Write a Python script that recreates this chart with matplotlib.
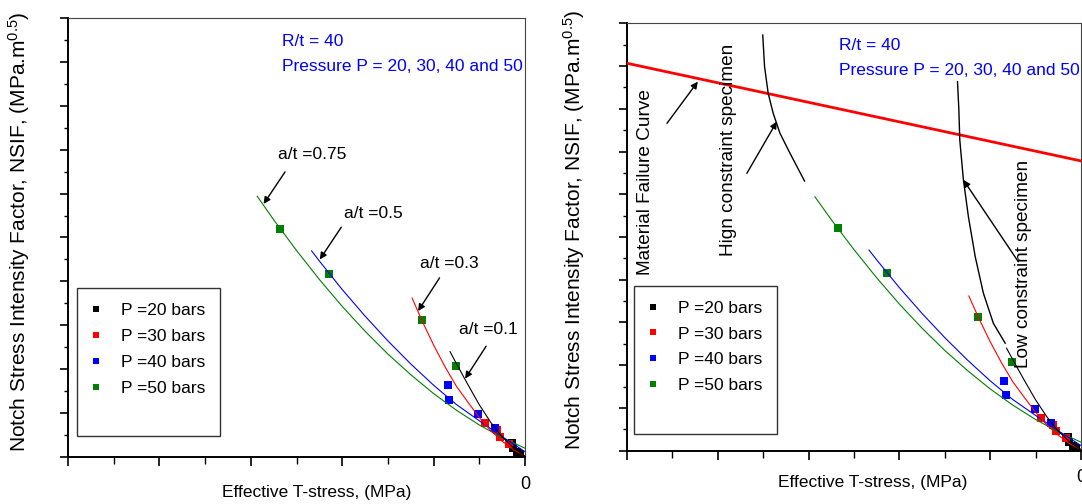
import matplotlib
matplotlib.use('Agg')
import matplotlib.pyplot as plt
from matplotlib.lines import Line2D
from matplotlib.ticker import MultipleLocator, FixedLocator, FixedFormatter

plt.rcParams['font.family'] = ['Liberation Sans', 'DejaVu Sans']
plt.rcParams['mathtext.fontset'] = 'custom'
plt.rcParams['mathtext.rm'] = 'Liberation Sans'
plt.rcParams['mathtext.it'] = 'Liberation Sans:italic'

# ---------------- data (arbitrary units) ----------------
legend_labels = ['P =20 bars', 'P =30 bars', 'P =40 bars', 'P =50 bars']
marker_colors = ['#000000', '#FF0000', '#0000FF', '#008000']

p20_t = [-0.29, -0.26, -0.18, -0.11]
p20_k = [0.62, 0.40, 0.24, 0.14]
p30_t = [-0.88, -0.61, -0.54, -0.34]
p30_k = [1.55, 1.22, 0.92, 0.60]
p40_t = [-1.69, -1.66, -1.02, -0.66]
p40_k = [3.27, 2.60, 1.96, 1.31]
p50_t = [-5.36, -4.28, -2.26, -1.51]
p50_k = [10.41, 8.33, 6.24, 4.16]

# a/t curves
c075_t = [-5.86, -5.5, -5.0, -4.5, -4.0, -3.5, -3.0, -2.5, -2.0, -1.5, -1.0, -0.5, 0.0]
c075_k = [11.88, 10.81, 9.41, 8.09, 6.86, 5.73, 4.69, 3.75, 2.89, 2.13, 1.46, 0.88, 0.40]
c05_t = [-4.67, -4.5, -4.0, -3.5, -3.0, -2.5, -2.0, -1.5, -1.0, -0.5, 0.0]
c05_k = [9.39, 8.93, 7.63, 6.42, 5.29, 4.24, 3.27, 2.39, 1.65, 0.93, 0.24]
c03_t = [-2.47, -2.25, -2.0, -1.75, -1.5, -1.25, -1.0, -0.75, -0.5, -0.25, 0.0]
c03_k = [7.24, 6.19, 5.10, 4.11, 3.22, 2.50, 1.80, 1.20, 0.72, 0.33, 0.05]
c01_t = [-1.64, -1.5, -1.25, -1.0, -0.75, -0.5, -0.25, 0.0]
c01_k = [4.80, 4.25, 3.30, 2.38, 1.58, 0.92, 0.41, 0.05]

# right panel extras
mfc_t = [-10.0, 0.0]
mfc_k = [18.13, 13.56]
high_t = [-7.01, -6.97, -6.89, -6.78, -6.63, -6.41, -6.09]
high_k = [19.45, 17.97, 16.72, 15.79, 14.85, 13.92, 12.62]
low_t = [-2.72, -2.69, -2.67, -2.59, -2.48, -2.33, -2.15, -1.93, -1.67]
low_k = [17.27, 15.94, 14.54, 12.67, 10.95, 9.08, 7.37, 5.96, 5.03]

at_labels = ['a/t =0.75', 'a/t =0.5', 'a/t =0.3', 'a/t =0.1']
at_text_pos = [(-5.40, 13.78), (-3.96, 11.08), (-2.30, 8.80), (-1.45, 5.81)]
at_arrow_tail = [(-5.25, 12.99), (-4.02, 10.47), (-1.87, 8.16), (-0.85, 5.05)]
at_arrow_head = [(-5.72, 11.53), (-4.49, 9.00), (-2.34, 6.65), (-1.31, 3.57)]

x_label = 'Effective T-stress, (MPa)'
y_label = r'Notch Stress Intensity Factor, NSIF, (MPa.m$^{0.5}$)'

fig = plt.figure(figsize=(10.82, 5.04), dpi=100)
ax1 = fig.add_axes([68 / 1082, 47 / 504, 457 / 1082, 439 / 504])
ax2 = fig.add_axes([627 / 1082, 53.3 / 504, 454 / 1082, 427.4 / 504])

marker_sets = [(p20_t, p20_k), (p30_t, p30_k), (p40_t, p40_k), (p50_t, p50_k)]
curves = [(c075_t, c075_k, '#008000'), (c05_t, c05_k, '#0000FF'),
          (c03_t, c03_k, '#FF0000'), (c01_t, c01_k, '#000000')]

for ax, xlab_pos, ylab_pos, leg_anchor in [
        (ax1, (0.544, -0.064), (-0.079, 0.5125), (0.0197, 0.385)),
        (ax2, (0.542, -0.058), (-0.088, 0.516), (0.0154, 0.386))]:
    for (t, k), c in zip(marker_sets, marker_colors):
        ax.plot(t, k, ls='none', marker='s', markersize=5.8, color=c,
                markeredgewidth=0, zorder=2)
    for t, k, c in curves:
        ax.plot(t, k, color=c, lw=0.8, zorder=3)
    ax.set_xlim(-10, 0)
    ax.set_ylim(0, 20)
    ax.xaxis.set_major_locator(FixedLocator([-10, -8, -6, -4, -2, 0]))
    ax.xaxis.set_major_formatter(FixedFormatter(['', '', '', '', '', '0']))
    ax.xaxis.set_minor_locator(MultipleLocator(1))
    ax.yaxis.set_major_locator(MultipleLocator(2))
    ax.yaxis.set_minor_locator(MultipleLocator(1))
    ax.set_yticklabels([])
    ax.tick_params(axis='x', which='major', direction='out', length=6.5, width=1.2,
                   labelsize=13, pad=7)
    ax.tick_params(axis='x', which='minor', direction='out', length=5, width=1.0)
    ax.tick_params(axis='y', which='major', direction='out', length=6, width=1.2)
    ax.tick_params(axis='y', which='minor', direction='out', length=3, width=1.0)
    for s in ['left', 'bottom']:
        ax.spines[s].set_linewidth(1.4)
    for s in ['top', 'right']:
        ax.spines[s].set_linewidth(0.8)
        ax.spines[s].set_color('#444444')
    ax.set_xlabel(x_label, fontsize=12.5)
    ax.xaxis.set_label_coords(*xlab_pos)
    ax.set_ylabel(y_label, fontsize=15)
    ax.yaxis.set_label_coords(*ylab_pos)
    ax.text(-5.32, 18.95, 'R/t = 40', color='#0000FF', fontsize=12.5, va='center', ha='left')
    ax.text(-5.32, 17.8, 'Pressure P = 20, 30, 40 and 50', color='#0000FF',
            fontsize=12.5, va='center', ha='left')
    handles = [Line2D([], [], ls='none', marker='s', markersize=5, color=c,
                      markeredgewidth=0) for c in marker_colors]
    handles.append(Line2D([], [], ls='none'))
    leg = ax.legend(handles, legend_labels + [' '], loc='upper left',
                    bbox_to_anchor=leg_anchor, borderaxespad=0, frameon=True,
                    fancybox=False, edgecolor='#333333', framealpha=1,
                    fontsize=12.5, borderpad=0.85, labelspacing=0.62,
                    handlelength=0.5, handletextpad=1.2)
    leg.get_frame().set_linewidth(1.0)

arrow_kw = dict(arrowstyle='-|>', color='k', lw=1.0, mutation_scale=10,
                shrinkA=0, shrinkB=0)

# left panel annotations
for lab, tp, tail, head in zip(at_labels, at_text_pos, at_arrow_tail, at_arrow_head):
    ax1.text(tp[0], tp[1], lab, fontsize=12.5, va='center', ha='left')
    ax1.annotate('', xy=head, xytext=tail, arrowprops=arrow_kw)

# right panel extras
ax2.plot(mfc_t, mfc_k, color='#FF0000', lw=2.0, zorder=3)
ax2.plot(high_t, high_k, color='k', lw=1.0, zorder=3)
ax2.plot(low_t, low_k, color='k', lw=1.0, zorder=3)
ax2.text(-9.60, 12.59, 'Material Failure Curve', rotation=90, fontsize=13.7,
         ha='center', va='center')
ax2.text(-7.77, 14.07, 'Hign constraint specimen', rotation=90, fontsize=13.7,
         ha='center', va='center')
ax2.text(-1.27, 8.75, 'Low constraint specimen', rotation=90, fontsize=13.7,
         ha='center', va='center')
ax2.annotate('', xy=(-8.44, 17.27), xytext=(-9.12, 15.32), arrowprops=arrow_kw)
ax2.annotate('', xy=(-6.70, 15.40), xytext=(-7.36, 12.98), arrowprops=arrow_kw)
ax2.annotate('', xy=(-2.59, 12.67), xytext=(-1.38, 8.84), arrowprops=arrow_kw)

fig.savefig('out.png', dpi=100)
